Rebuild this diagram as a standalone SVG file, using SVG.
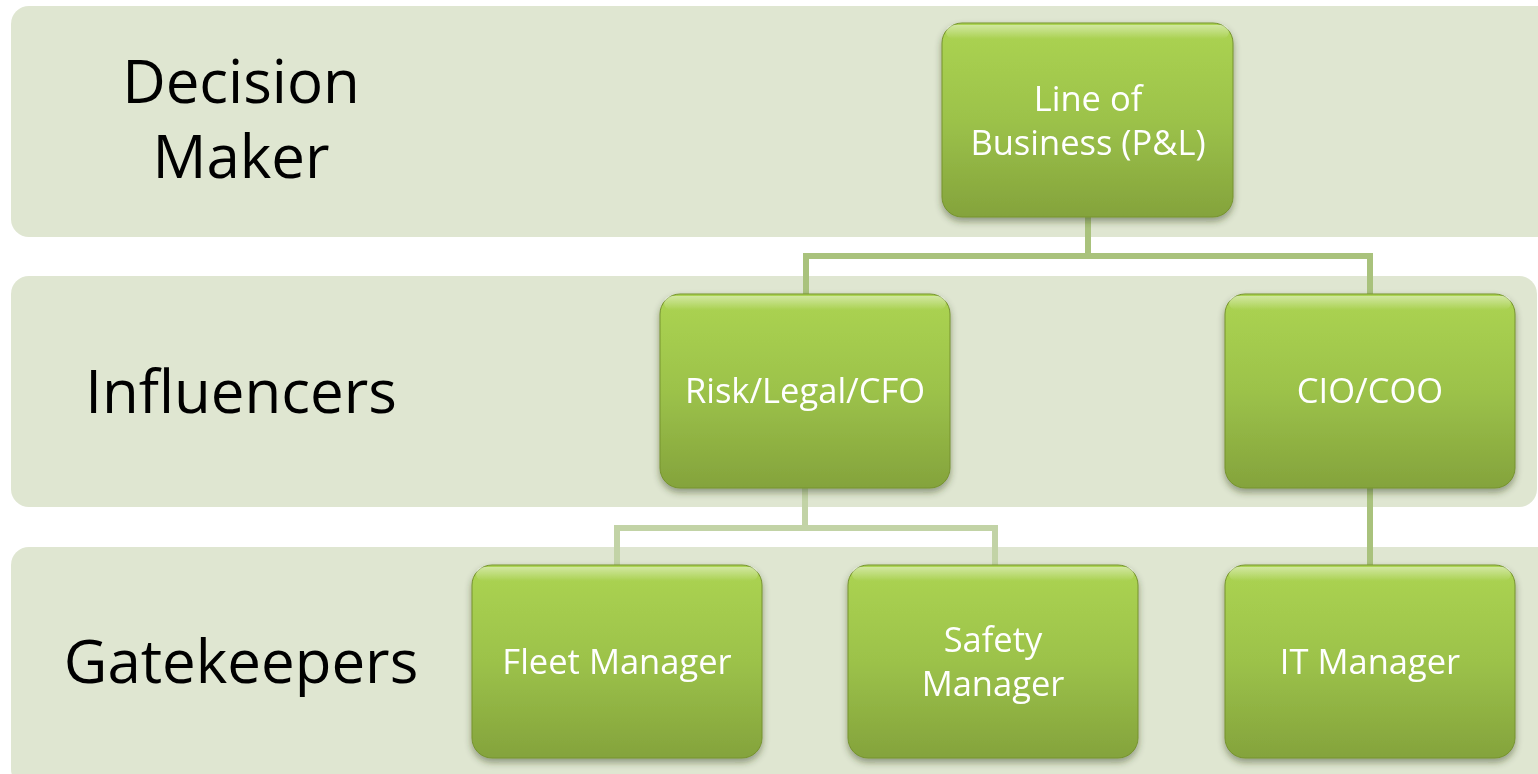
<svg xmlns="http://www.w3.org/2000/svg" width="1538" height="774" viewBox="0 0 1538 774">
<defs>
<linearGradient id="g" x1="0" y1="0" x2="0" y2="1">
<stop offset="0" stop-color="#acd452"/>
<stop offset="0.5" stop-color="#9cc24a"/>
<stop offset="1" stop-color="#84a33c"/>
</linearGradient>
<linearGradient id="hl" x1="0" y1="0" x2="0" y2="1">
<stop offset="0" stop-color="#ffffff" stop-opacity="0.45"/>
<stop offset="1" stop-color="#ffffff" stop-opacity="0"/>
</linearGradient>
<filter id="sh" x="-10%" y="-10%" width="120%" height="130%">
<feDropShadow dx="0" dy="4" stdDeviation="3.5" flood-color="#2e3a12" flood-opacity="0.45"/>
</filter>
</defs>
<style>
.band{fill:#dfe6d1}
.lab{font-family:"Open Sans","Liberation Sans",sans-serif;font-size:60px;fill:#000;text-anchor:middle}
.box{fill:url(#g);stroke:#76932f;stroke-width:1}
.hl{fill:url(#hl)}
.nt{font-family:"Open Sans","Liberation Sans",sans-serif;font-size:34.5px;fill:#fff;text-anchor:middle}
.c1{fill:none;stroke:#a9c27c;stroke-width:6}
.c2{fill:none;stroke:#c2d3a6;stroke-width:6}
</style>
<rect width="1538" height="774" fill="#ffffff"/>
<g id="bands">
<rect class="band" x="11" y="6" width="1560" height="231" rx="18"/>
<rect class="band" x="11" y="276" width="1526" height="231" rx="18"/>
<rect class="band" x="11" y="547" width="1560" height="240" rx="18"/>
<text class="lab" x="241" y="103">Decision</text>
<text class="lab" x="241" y="178">Maker</text>
<text class="lab" x="241" y="413">Influencers</text>
<text class="lab" x="241" y="683">Gatekeepers</text>
</g>
<g id="connectors">
<path class="c1" d="M1088 217 V256 H806 V294 M1088 256 H1370 V294"/>
<path class="c2" d="M805 488 V528 H617 V565 M805 528 H995 V565"/>
<path class="c1" d="M1370 488 V565"/>
</g>
<g id="lob" filter="url(#sh)">
<rect class="box" x="942" y="23" width="291" height="194" rx="20"/>
<rect class="hl" x="946" y="25" width="283" height="14" rx="8"/>
<text class="nt" x="1088" y="111">Line of</text>
<text class="nt" x="1088" y="155">Business (P&amp;L)</text>
</g>
<g id="risk" filter="url(#sh)">
<rect class="box" x="660" y="294" width="290" height="194" rx="20"/>
<rect class="hl" x="664" y="296" width="282" height="14" rx="8"/>
<text class="nt" x="805" y="403">Risk/Legal/CFO</text>
</g>
<g id="cio" filter="url(#sh)">
<rect class="box" x="1225" y="294" width="290" height="194" rx="20"/>
<rect class="hl" x="1229" y="296" width="282" height="14" rx="8"/>
<text class="nt" x="1370" y="403">CIO/COO</text>
</g>
<g id="fleet" filter="url(#sh)">
<rect class="box" x="472" y="565" width="290" height="193" rx="20"/>
<rect class="hl" x="476" y="567" width="282" height="14" rx="8"/>
<text class="nt" x="617" y="674">Fleet Manager</text>
</g>
<g id="safety" filter="url(#sh)">
<rect class="box" x="848" y="565" width="290" height="193" rx="20"/>
<rect class="hl" x="852" y="567" width="282" height="14" rx="8"/>
<text class="nt" x="993" y="652">Safety</text>
<text class="nt" x="993" y="696">Manager</text>
</g>
<g id="it" filter="url(#sh)">
<rect class="box" x="1225" y="565" width="290" height="193" rx="20"/>
<rect class="hl" x="1229" y="567" width="282" height="14" rx="8"/>
<text class="nt" x="1370" y="674">IT Manager</text>
</g>
</svg>
